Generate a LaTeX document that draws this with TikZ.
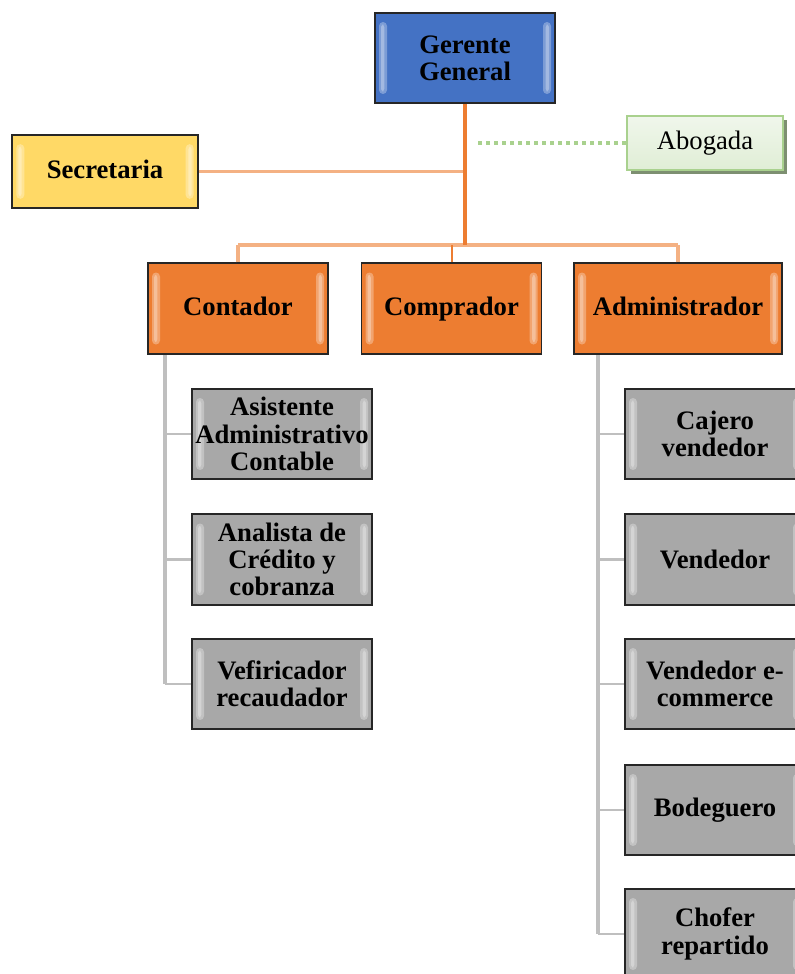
\documentclass[tikz,border=0pt]{standalone}
\usepackage{fontspec}
\setmainfont{Liberation Serif}
\usetikzlibrary{positioning,shadows}

\definecolor{azul}{HTML}{4472C4}
\definecolor{amarillo}{HTML}{FFD966}
\definecolor{naranja}{HTML}{ED7D31}
\definecolor{naranjaclaro}{HTML}{F4B183}
\definecolor{gris}{HTML}{A8A8A8}
\definecolor{grislinea}{HTML}{BFBFBF}
\definecolor{verde}{HTML}{A9D18E}
\definecolor{verdeclaro}{HTML}{E6F1DE}

\tikzset{
  bisel/.style={path picture={
    \fill[white,opacity=.3,rounded corners=3pt] ([shift={(3pt,-7pt)}]path picture bounding box.north west) rectangle ([shift={(9pt,7pt)}]path picture bounding box.south west);
    \fill[white,opacity=.3,rounded corners=2pt] ([shift={(4.5pt,-9pt)}]path picture bounding box.north west) rectangle ([shift={(7pt,9pt)}]path picture bounding box.south west);
    \fill[white,opacity=.3,rounded corners=3pt] ([shift={(-3pt,-7pt)}]path picture bounding box.north east) rectangle ([shift={(-9pt,7pt)}]path picture bounding box.south east);
    \fill[white,opacity=.3,rounded corners=2pt] ([shift={(-4.5pt,-9pt)}]path picture bounding box.north east) rectangle ([shift={(-7pt,9pt)}]path picture bounding box.south east);
  }},
  caja/.style={draw=black!85, line width=1.3pt, minimum width=135pt, minimum height=68pt,
    inner sep=0pt, align=center, font=\fontsize{20}{20.5}\selectfont\bfseries, bisel},
  jefe/.style={caja, fill=azul},
  apoyo/.style={caja, fill=amarillo, minimum width=139pt, minimum height=55pt, text height=14pt, text depth=4pt},
  area/.style={caja, fill=naranja, text height=14pt, text depth=4pt},
  puesto/.style={caja, fill=gris},
  asesor/.style={draw=verde, line width=1.3pt, top color=verdeclaro!60, bottom color=verdeclaro!90!verde,
    minimum width=117pt, minimum height=40pt, font=\fontsize{20}{20.5}\selectfont,
    drop shadow={shadow xshift=3pt, shadow yshift=-3pt, fill=black!45!verde, opacity=.8}},
  tronco/.style={naranja, line width=3pt},
  rama/.style={naranjaclaro, line width=2.4pt},
  bajada/.style={naranja, line width=1.5pt},
  eje/.style={grislinea, line width=2.5pt},
  brazo/.style={grislinea, line width=1.6pt},
  punteado/.style={verde, line width=3pt, dash pattern=on 3pt off 3pt}
}

\begin{document}
\begin{tikzpicture}[x=0.75pt,y=-0.75pt]
\useasboundingbox (0,0) rectangle (795,974);
\clip (0,0) rectangle (795,974);

\coordinate (barra) at (465,245);
\coordinate (finabo) at (476,143);
\coordinate (ejeizq) at (165,355);
\coordinate (ejeder) at (598,355);

% boxes
\node[jefe] (gerente) at (465,58) {Gerente\\General};
\node[apoyo] (secretaria) at (105,171.5) {Secretaria};
\node[asesor] (abogada) at (705,143) {Abogada};

\node[area] (contador) at (238,308.5) {Contador};
\node[area] (comprador) at (451.5,308.5) {Comprador};
\node[area, minimum width=156pt] (admin) at (678,308.5) {Administrador};

\node[puesto] (asist) at (282,434) {Asistente\\Administrativo\\Contable};
\node[puesto] (analista) at (282,559.5) {Analista de\\Cr\'edito y\\cobranza};
\node[puesto] (verif) at (282,684) {Vefiricador\\recaudador};

\node[puesto] (cajero) at (715,434) {Cajero\\vendedor};
\node[puesto] (vendedor) at (715,559.5) {Vendedor};
\node[puesto] (ecom) at (715,684) {Vendedor e-\\commerce};
\node[puesto] (bodeguero) at (715,810) {Bodeguero};
\node[puesto] (chofer) at (715,934) {Chofer\\repartido};

% orange lines
\draw[rama] (secretaria.east) -- (secretaria.east -| gerente.south);
\draw[rama] (contador.north |- barra) -- (admin.north |- barra);
\draw[rama] (contador.north) -- (contador.north |- barra);
\draw[bajada] (comprador.north) -- (comprador.north |- barra);
\draw[rama] (admin.north) -- (admin.north |- barra);
\draw[tronco] (gerente.south) -- (barra);
\draw[punteado] (abogada.west) -- (abogada.west -| finabo);

% gray lines
\draw[eje] (ejeizq) -- (ejeizq |- verif.west);
\foreach \p in {asist,analista,verif}
  \draw[brazo] (ejeizq |- \p.west) -- (\p.west);
\draw[eje] (ejeder) -- (ejeder |- chofer.west);
\foreach \p in {cajero,vendedor,ecom,bodeguero,chofer}
  \draw[brazo] (ejeder |- \p.west) -- (\p.west);

\end{tikzpicture}
\end{document}
